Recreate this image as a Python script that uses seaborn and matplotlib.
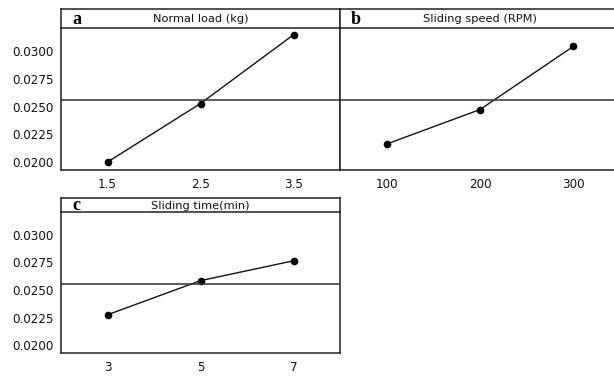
import matplotlib
matplotlib.use("Agg")
import matplotlib.pyplot as plt
import seaborn as sns
import pandas as pd

# Data
load_levels = [1.5, 2.5, 3.5]
load_means = [0.0200, 0.02527, 0.03147]
speed_levels = [100, 200, 300]
speed_means = [0.02162, 0.02473, 0.03042]
time_levels = [3, 5, 7]
time_means = [0.02275, 0.02585, 0.02765]
grand_mean = 0.02555
panel_titles = ["Normal load (kg)", "Sliding speed (RPM)", "Sliding time(min)"]
panel_letters = ["a", "b", "c"]
ytick_vals = [0.0200, 0.0225, 0.0250, 0.0275, 0.0300]

sns.set_style("white")
plt.rcParams['font.family'] = ['DejaVu Sans']

W, H = 614, 379
fig = plt.figure(figsize=(W / 100, H / 100), dpi=100)


def px_axes(left, top, right, bottom):
    return fig.add_axes([left / W, 1 - bottom / H, (right - left) / W, (bottom - top) / H])


panels = [
    dict(levels=load_levels, means=load_means, box=(61, 28, 340, 170), head=(61, 9, 340, 28),
         xlim=(1.0, 4.0), yl=True),
    dict(levels=speed_levels, means=speed_means, box=(340, 28, 620, 170), head=(340, 9, 620, 28),
         xlim=(50, 350), yl=False),
    dict(levels=time_levels, means=time_means, box=(61, 212, 340, 353), head=(61, 198, 340, 212),
         xlim=(2.0, 8.0), yl=True),
]

edge = "#222222"
for i, p in enumerate(panels):
    ax = px_axes(*p["box"])
    df = pd.DataFrame({"level": p["levels"], "mean": p["means"]})
    sns.lineplot(data=df, x="level", y="mean", ax=ax, color="#111111", linewidth=1.0,
                 marker="o", markersize=5.5, markeredgewidth=0, markerfacecolor="black")
    ax.axhline(grand_mean, color="#333333", linewidth=1.1)
    ax.set_xlim(*p["xlim"])
    ax.set_ylim(0.01928, 0.03208)
    ax.set_xticks(p["levels"])
    ax.set_xticklabels([f"{v:g}" for v in p["levels"]])
    ax.set_yticks(ytick_vals)
    if p["yl"]:
        ax.set_yticklabels([f"{v:.4f}" for v in ytick_vals])
        ax.tick_params(axis="y", length=3, width=0.8, direction="out", labelsize=8.6, pad=2,
                       color=edge, labelcolor="#111111")
    else:
        ax.tick_params(axis="y", length=0, labelleft=False)
    ax.tick_params(axis="x", length=3, width=0.8, direction="out", labelsize=8.6, pad=3,
                   color=edge, labelcolor="#111111")
    ax.set_xlabel("")
    ax.set_ylabel("")
    for s in ax.spines.values():
        s.set_color(edge)
        s.set_linewidth(1.1)
    ax.spines["top"].set_visible(False)
    ax.set_facecolor("white")

    hx = px_axes(*p["head"])
    hx.set_xticks([])
    hx.set_yticks([])
    hx.set_xlim(0, 1)
    hx.set_ylim(0, 1)
    for s in hx.spines.values():
        s.set_color(edge)
        s.set_linewidth(1.1)
    hx.text(0.5, 0.45, panel_titles[i], ha="center", va="center", fontsize=8.2, color="#111111")
    hl = p["head"]
    hx.text(11 / (hl[2] - hl[0]), 0.45, panel_letters[i], ha="left", va="center",
            fontsize=13, fontweight="bold", family="Liberation Serif", color="black")

fig.savefig("out.png", dpi=100)
